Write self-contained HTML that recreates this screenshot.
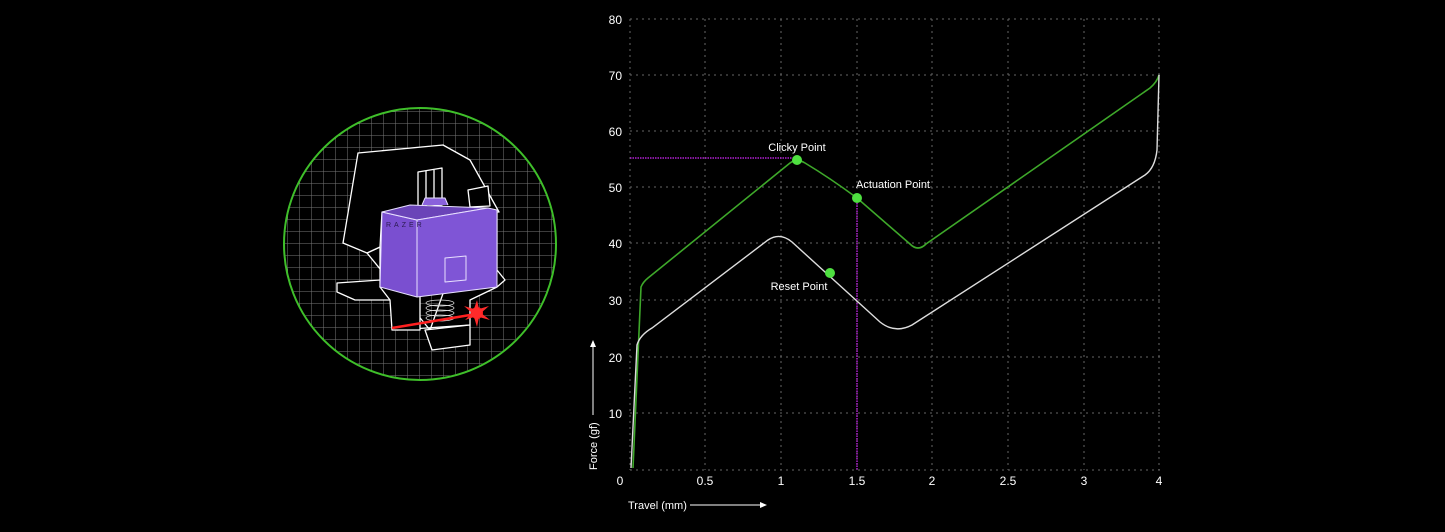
<!DOCTYPE html>
<html><head><meta charset="utf-8"><style>
html,body{margin:0;padding:0;background:#000;}
body{width:1445px;height:527px;overflow:hidden;}
text{font-family:"Liberation Sans",sans-serif;fill:#fff;}
</style></head><body>
<svg width="1445" height="527" viewBox="0 0 1445 527" xmlns="http://www.w3.org/2000/svg">
<defs>
<clipPath id="cc"><circle cx="420" cy="244" r="136"/></clipPath>
<pattern id="gp" width="12" height="12" patternUnits="userSpaceOnUse" x="0" y="4">
<path d="M12 0V12M0 12H12" stroke="#777" stroke-width="1" fill="none"/></pattern>
</defs>
<g clip-path="url(#cc)"><rect x="280" y="100" width="280" height="290" fill="url(#gp)"/></g>
<circle cx="420" cy="244" r="136" fill="none" stroke="#3fbf2a" stroke-width="2"/>
<!-- switch -->
<g stroke="#fff" stroke-width="1.3" fill="#000" stroke-linejoin="round">
<path d="M337 283 L380 280 L392 300 L355 300 L337 292 Z"/>
<path d="M367 253 L380 247 L380 287 L395 298 L397 330 L470 325 L470 300 L497 287 L505 280 L497 270 L497 212 L470 218 L430 330 Z"/>
<path d="M385 258 L420 258 L420 330 L392 330 L390 300 L380 287 Z"/>
<path d="M425 330 L470 325 L470 345 L432 350 Z"/>
<path d="M358 153 L443 145 L470 160 L499 212 L382 212 L380 247 L367 253 L343 243 Z"/>
<path d="M418 172 L442 168 L442 205 L418 207 Z"/>
<line x1="426" y1="171" x2="426" y2="206"/><line x1="434" y1="170" x2="434" y2="205"/>
<path d="M468 190 L488 186 L490 206 L470 207 Z"/>
</g>
<g stroke="#e8e0ff" stroke-width="1" stroke-linejoin="round">
<path d="M382 212 L417 220 L417 297 L380 287 Z" fill="#7a4fd0"/>
<path d="M382 212 L410 205 L488 208 L417 220 Z" fill="#6a44b8"/>
<path d="M417 220 L488 208 L497 210 L497 287 L417 297 Z" fill="#7f55d6"/>
<path d="M445 258 L466 256 L466 280 L445 282 Z" fill="#7f55d6"/>
<path d="M422 205 L425 198 L445 198 L448 205" fill="#8a62dc"/>
</g>
<text x="386" y="227" font-size="7" letter-spacing="3" style="fill:#2a1a50">RAZER</text>
<g stroke="#ddd" stroke-width="0.8" fill="none">
<ellipse cx="440" cy="303" rx="14" ry="3"/><ellipse cx="440" cy="308" rx="14" ry="3"/><ellipse cx="440" cy="313" rx="14" ry="3"/><ellipse cx="440" cy="318" rx="14" ry="3"/>
</g>
<line x1="392" y1="328" x2="476" y2="314" stroke="#ff2020" stroke-width="2.5"/>
<circle cx="477" cy="313" r="6" fill="#ff1a1a"/>
<path d="M477 300 L479 309 L489 306 L481 313 L490 320 L479 317 L477 327 L474 317 L465 320 L472 313 L464 306 L474 309 Z" fill="#ff2a2a"/>
<!-- chart grid -->
<g stroke="#666" stroke-width="1" stroke-dasharray="2,4">
<line x1="630" y1="19" x2="1160" y2="19"/><line x1="630" y1="75" x2="1160" y2="75"/>
<line x1="630" y1="131" x2="1160" y2="131"/><line x1="630" y1="187" x2="1160" y2="187"/>
<line x1="630" y1="243" x2="1160" y2="243"/><line x1="630" y1="300" x2="1160" y2="300"/>
<line x1="630" y1="357" x2="1160" y2="357"/><line x1="630" y1="413" x2="1160" y2="413"/>
<line x1="630" y1="470" x2="1160" y2="470"/>
<line x1="630" y1="19" x2="630" y2="470"/><line x1="705" y1="19" x2="705" y2="470"/>
<line x1="781" y1="19" x2="781" y2="470"/><line x1="857" y1="19" x2="857" y2="470"/>
<line x1="932" y1="19" x2="932" y2="470"/><line x1="1008" y1="19" x2="1008" y2="470"/>
<line x1="1084" y1="19" x2="1084" y2="470"/><line x1="1159" y1="19" x2="1159" y2="470"/>
</g>
<g font-size="12" text-anchor="end">
<text x="622" y="24">80</text><text x="622" y="80">70</text><text x="622" y="136">60</text>
<text x="622" y="192">50</text><text x="622" y="248">40</text><text x="622" y="305">30</text>
<text x="622" y="362">20</text><text x="622" y="418">10</text>
</g>
<g font-size="12" text-anchor="middle">
<text x="620" y="485">0</text><text x="705" y="485">0.5</text><text x="781" y="485">1</text>
<text x="857" y="485">1.5</text><text x="932" y="485">2</text><text x="1008" y="485">2.5</text>
<text x="1084" y="485">3</text><text x="1159" y="485">4</text>
</g>
<g stroke="#b020d0" stroke-width="1.5" stroke-dasharray="1.5,1">
<line x1="630" y1="158" x2="796" y2="158"/><line x1="857" y1="198" x2="857" y2="470"/>
</g>
<path d="M633 468 L641 287 Q643 282 648 278 L790 163 Q797 158 805 163 Q830 178 857 198 L910 244 Q918 252 926 244 L1150 88 Q1157 82 1159 75" fill="none" stroke="#3ea82a" stroke-width="1.6"/>
<path d="M631 468 L637 345 Q640 335 652 328 L768 240 Q780 232 792 242 L880 322 Q895 334 912 325 L1145 175 Q1155 168 1157 150 L1159 75" fill="none" stroke="#ddd" stroke-width="1.4"/>
<circle cx="797" cy="160" r="5" fill="#4ee040"/><circle cx="857" cy="198" r="5" fill="#4ee040"/><circle cx="830" cy="273" r="5" fill="#4ee040"/>
<g font-size="11" text-anchor="middle">
<text x="797" y="151">Clicky Point</text><text x="893" y="188">Actuation Point</text><text x="799" y="290">Reset Point</text>
</g>
<text x="0" y="0" font-size="11" transform="translate(597,470) rotate(-90)">Force (gf)</text>
<line x1="593" y1="415" x2="593" y2="345" stroke="#fff" stroke-width="1"/>
<path d="M593 340 L590 347 L596 347 Z" fill="#fff"/>
<text x="628" y="509" font-size="11">Travel (mm)</text>
<line x1="690" y1="505" x2="762" y2="505" stroke="#fff" stroke-width="1"/>
<path d="M767 505 L760 502 L760 508 Z" fill="#fff"/>
</svg>
</body></html>
